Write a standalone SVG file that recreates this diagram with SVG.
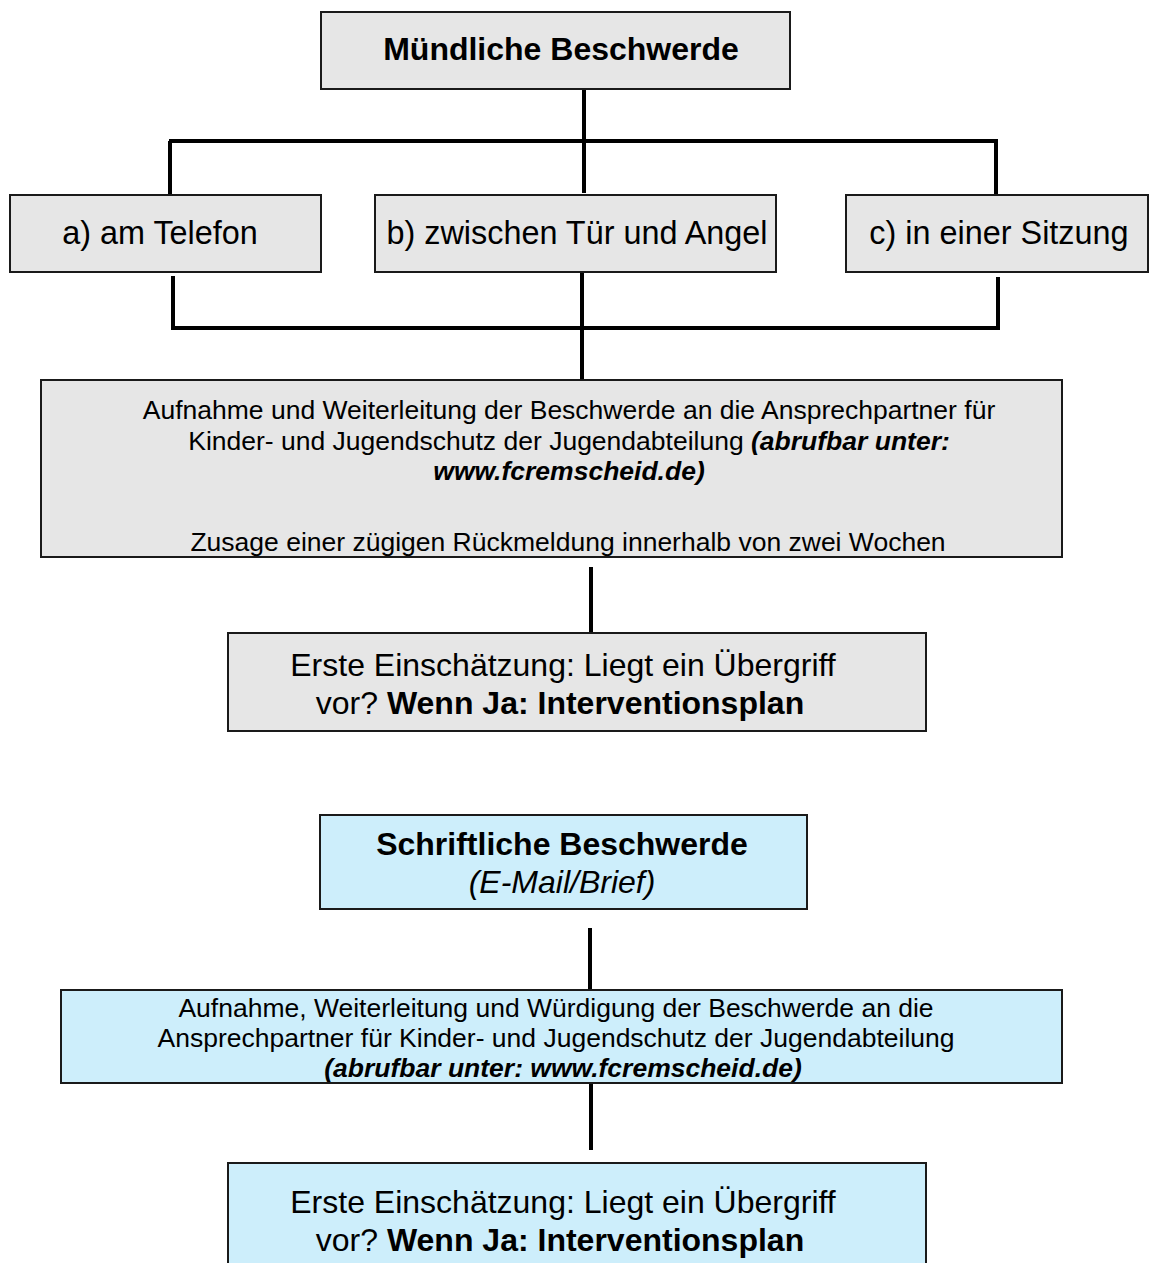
<svg xmlns="http://www.w3.org/2000/svg" width="1150" height="1263" viewBox="0 0 1150 1263">
<style>
text{font-family:"Liberation Sans",Arial,sans-serif;fill:#000}
.g{fill:#e6e6e6;stroke:#1a1a1a;stroke-width:2}
.b{fill:#cdeefb;stroke:#1a1a1a;stroke-width:2}
.c{stroke:#000;stroke-width:4;fill:none}
.h{font-size:32px;font-weight:bold}
.m{font-size:32.4px}
.e{font-size:32px}
.s{font-size:26.5px}
.bi{font-weight:bold;font-style:italic}
.bo{font-weight:bold}
</style>
<rect width="1150" height="1263" fill="#fff"/>
<g id="connectors">
<line class="c" x1="584" y1="89" x2="584" y2="193"/>
<line class="c" x1="169" y1="141" x2="998" y2="141"/>
<line class="c" x1="170" y1="141" x2="170" y2="195"/>
<line class="c" x1="996" y1="141" x2="996" y2="195"/>
<line class="c" x1="173" y1="276" x2="173" y2="330"/>
<line class="c" x1="998" y1="277" x2="998" y2="330"/>
<line class="c" x1="171" y1="328" x2="1000" y2="328"/>
<line class="c" x1="582" y1="273" x2="582" y2="384"/>
<line class="c" x1="591" y1="567" x2="591" y2="645"/>
<line class="c" x1="590" y1="928" x2="590" y2="1000"/>
<line class="c" x1="591" y1="1050" x2="591" y2="1150"/>
</g>
<g id="n1"><rect class="g" x="321" y="12" width="469" height="77"/><text class="h" x="561" y="60" text-anchor="middle">Mündliche Beschwerde</text></g>
<g id="na"><rect class="g" x="10" y="195" width="311" height="77"/><text class="m" x="160" y="244" text-anchor="middle">a) am Telefon</text></g>
<g id="nb"><rect class="g" x="375" y="195" width="401" height="77"/><text class="m" x="577" y="244" text-anchor="middle">b) zwischen Tür und Angel</text></g>
<g id="nc"><rect class="g" x="846" y="195" width="302" height="77"/><text class="m" x="999" y="244" text-anchor="middle">c) in einer Sitzung</text></g>
<g id="n3"><rect class="g" x="41" y="380" width="1021" height="177"/>
<text class="s" text-anchor="middle"><tspan x="569" y="419">Aufnahme und Weiterleitung der Beschwerde an die Ansprechpartner für</tspan><tspan x="569" y="450">Kinder- und Jugendschutz der Jugendabteilung <tspan class="bi">(abrufbar unter:</tspan></tspan><tspan x="569" y="480" class="bi">www.fcremscheid.de)</tspan><tspan x="568" y="551">Zusage einer zügigen Rückmeldung innerhalb von zwei Wochen</tspan></text></g>
<g id="n5"><rect class="g" x="228" y="633" width="698" height="98"/>
<text class="e" text-anchor="middle"><tspan x="563" y="676">Erste Einschätzung: Liegt ein Übergriff</tspan><tspan x="560" y="714">vor? <tspan class="bo">Wenn Ja: Interventionsplan</tspan></tspan></text></g>
<g id="n4"><rect class="b" x="320" y="815" width="487" height="94"/>
<text class="h" x="562" y="855" text-anchor="middle">Schriftliche Beschwerde</text>
<text x="562" y="893" text-anchor="middle" font-size="32" font-style="italic">(E-Mail/Brief)</text></g>
<g id="n6"><rect class="b" x="61" y="990" width="1001" height="93"/>
<text class="s" text-anchor="middle"><tspan x="556" y="1017">Aufnahme, Weiterleitung und Würdigung der Beschwerde an die</tspan><tspan x="556" y="1047">Ansprechpartner für Kinder- und Jugendschutz der Jugendabteilung</tspan><tspan x="563" y="1077" class="bi">(abrufbar unter: www.fcremscheid.de)</tspan></text></g>
<g id="n7"><rect class="b" x="228" y="1163" width="698" height="110"/>
<text class="e" text-anchor="middle"><tspan x="563" y="1213">Erste Einschätzung: Liegt ein Übergriff</tspan><tspan x="560" y="1251">vor? <tspan class="bo">Wenn Ja: Interventionsplan</tspan></tspan></text></g>
</svg>
